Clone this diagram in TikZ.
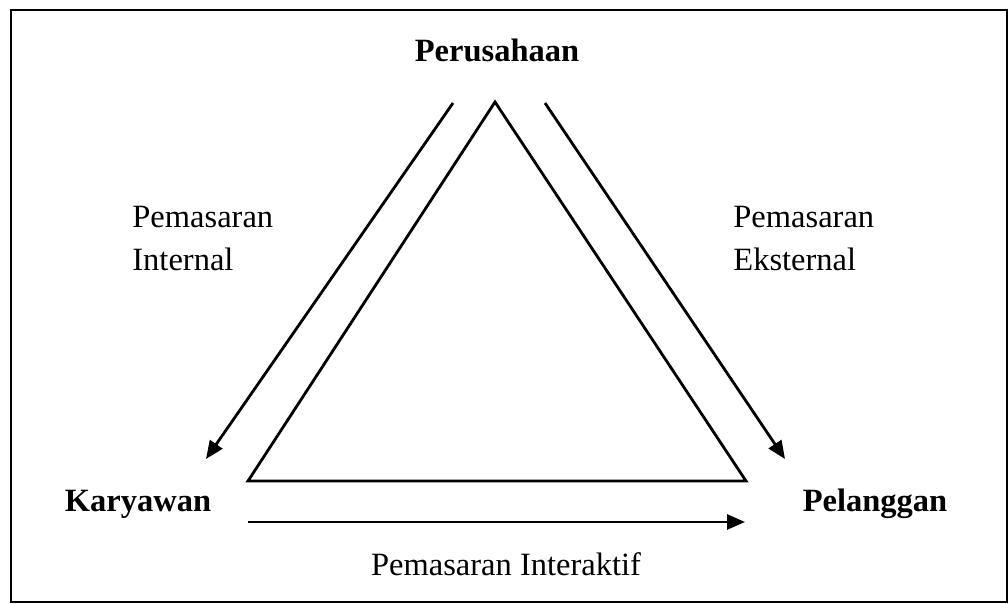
\documentclass[tikz,border=0pt]{standalone}
\usepackage{fontspec}
\setmainfont{Liberation Serif}
\usepackage{tikz}
\usetikzlibrary{arrows.meta, positioning}
\tikzset{
  party/.style={font=\fontsize{16.25}{21.5}\selectfont\bfseries, inner sep=0pt},
  flowtext/.style={font=\fontsize{16.25}{21.5}\selectfont, inner sep=0pt, align=left},
  flowarrow/.style={-{Triangle[length=9pt,width=7.5pt]}, line width=1.4pt},
  triline/.style={line width=1.4pt, line join=miter}
}

\begin{document}
\begin{tikzpicture}[x=0.5pt, y=-0.5pt]
  \useasboundingbox (0,0) rectangle (1008,604);
  \draw[line width=1pt] (11,10) rectangle (1007,602);

  % the three parties
  \node[party, anchor=base] (perusahaan) at (497,62) {Perusahaan};
  \node[party, anchor=base] (karyawan) at (138,512) {Karyawan};
  \node[party, anchor=base] (pelanggan) at (875,512) {Pelanggan};

  % triangle
  \coordinate (apex) at (495,102);
  \coordinate (botleft) at (248,481);
  \coordinate (botright) at (746,481);
  \draw[triline] (apex) -- (botleft) -- (botright) -- cycle;

  % arrows
  \coordinate (inA) at (453,103);
  \coordinate (inB) at (206,459);
  \coordinate (exA) at (545,103);
  \coordinate (exB) at (785,459);
  \coordinate (itA) at (248,522);
  \coordinate (itB) at (745,522);
  \draw[flowarrow] (inA) -- (inB);
  \draw[flowarrow] (exA) -- (exB);
  \draw[flowarrow] (itA) -- (itB);

  % labels
  \node[flowtext, anchor=north west] (internal) at (132,206) {Pemasaran\\Internal};
  \node[flowtext, anchor=north west] (eksternal) at (733,206) {Pemasaran\\Eksternal};
  \node[flowtext, anchor=base] (interaktif) at (506,575) {Pemasaran Interaktif};
\end{tikzpicture}
\end{document}
